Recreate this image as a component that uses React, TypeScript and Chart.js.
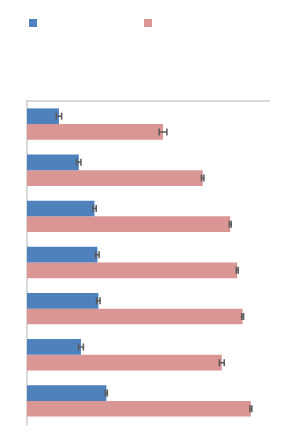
import React, { useEffect, useRef } from "react";
import { Chart, registerables } from "chart.js";

Chart.register(...registerables);

const categories = ["1", "2", "3", "4", "5", "6", "7"];
const seriesNames = ["", ""];
const blueValues = [13.2, 21.4, 27.9, 29.1, 29.5, 22.3, 32.8];
const blueErrors = [1.1, 0.9, 0.7, 0.7, 0.7, 1.0, 0.4];
const pinkValues = [56.2, 72.6, 84.0, 86.9, 89.1, 80.5, 92.5];
const pinkErrors = [1.6, 0.5, 0.4, 0.4, 0.4, 1.0, 0.4];
const axisMax = 100;

const BLUE = "#4f81bd";
const PINK = "#d99694";

const errorBarPlugin = {
  id: "errorBars",
  afterDatasetsDraw(chart: any) {
    const ctx = chart.ctx;
    const xScale = chart.scales.x;
    ctx.save();
    ctx.strokeStyle = "#595959";
    ctx.lineWidth = 1.5;
    chart.data.datasets.forEach((ds: any, di: number) => {
      const meta = chart.getDatasetMeta(di);
      const errs = ds.errors || [];
      meta.data.forEach((bar: any, i: number) => {
        const v = ds.data[i];
        const e = errs[i] || 0;
        const x1 = xScale.getPixelForValue(v - e);
        const x2 = xScale.getPixelForValue(v + e);
        const y = bar.y;
        const h = 3.5;
        ctx.beginPath();
        ctx.moveTo(x1, y);
        ctx.lineTo(x2, y);
        ctx.moveTo(x1, y - h);
        ctx.lineTo(x1, y + h);
        ctx.moveTo(x2, y - h);
        ctx.lineTo(x2, y + h);
        ctx.stroke();
      });
    });
    ctx.restore();
  },
};

const legendPlugin = {
  id: "boxLegend",
  afterDraw(chart: any) {
    const ctx = chart.ctx;
    const starts = [29, 144];
    ctx.save();
    chart.data.datasets.forEach((ds: any, i: number) => {
      ctx.fillStyle = ds.backgroundColor;
      ctx.fillRect(starts[i], 19, 8, 8);
    });
    ctx.restore();
  },
};

export default function App() {
  const ref = useRef<HTMLCanvasElement | null>(null);
  useEffect(() => {
    if (!ref.current) return;
    const chart = new Chart(ref.current, {
      type: "bar",
      data: {
        labels: categories,
        datasets: [
          {
            label: seriesNames[0],
            data: blueValues,
            errors: blueErrors,
            backgroundColor: BLUE,
            borderWidth: 0,
          } as any,
          {
            label: seriesNames[1],
            data: pinkValues,
            errors: pinkErrors,
            backgroundColor: PINK,
            borderWidth: 0,
          } as any,
        ],
      },
      options: {
        indexAxis: "y",
        responsive: true,
        maintainAspectRatio: false,
        animation: false,
        layout: { padding: { left: 27, right: 26, top: 101, bottom: 19 } },
        datasets: { bar: { categoryPercentage: 0.68, barPercentage: 1 } },
        plugins: {
          legend: { display: false },
          tooltip: { enabled: false },
        },
        scales: {
          x: {
            position: "top",
            min: 0,
            max: axisMax,
            ticks: { display: false },
            grid: { display: false, drawTicks: false },
            border: { display: true, color: "#d9d9d9", width: 2 },
          },
          y: {
            ticks: { display: false },
            grid: { display: false, drawTicks: false },
            border: { display: true, color: "#d9d9d9", width: 2 },
          },
        },
      },
      plugins: [errorBarPlugin, legendPlugin],
    });
    return () => chart.destroy();
  }, []);
  return (
    <div style={{ position: "fixed", left: 0, top: 0, width: 295, height: 443, background: "#fff" }}>
      <canvas ref={ref} />
    </div>
  );
}
